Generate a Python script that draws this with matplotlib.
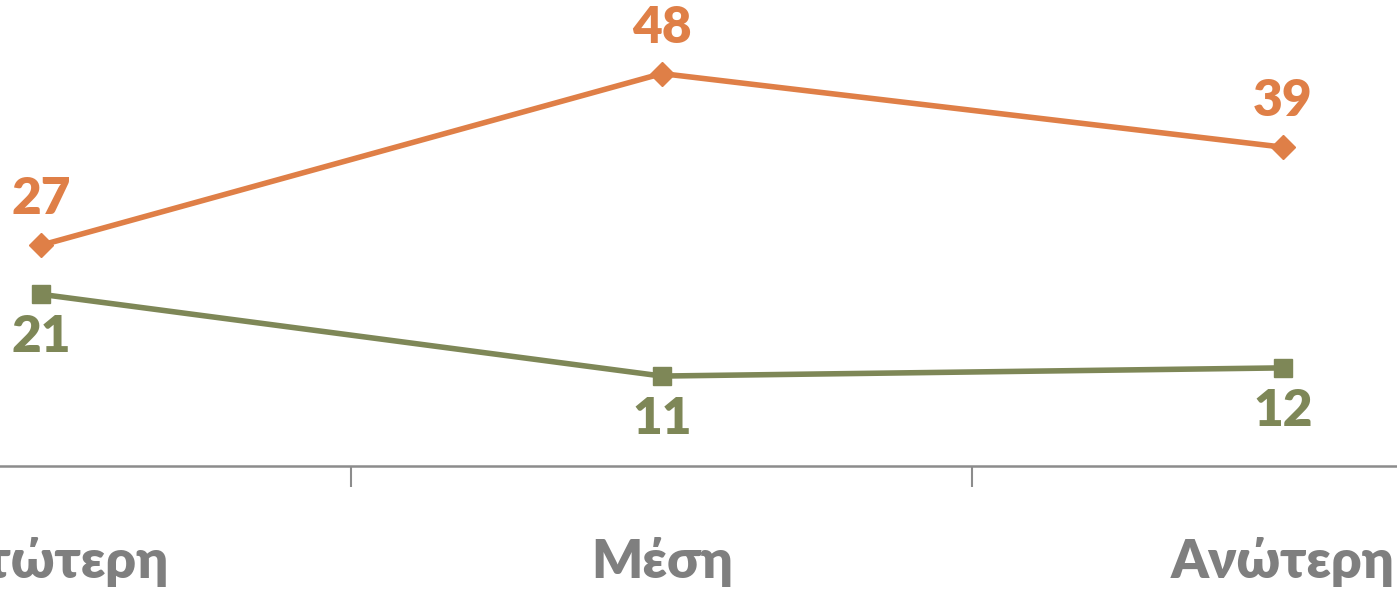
import matplotlib
matplotlib.use("Agg")
import matplotlib.pyplot as plt
from matplotlib.ticker import FixedLocator

categories = ["Κατώτερη", "Μέση", "Ανώτερη"]
series_orange = [27, 48, 39]
series_green = [21, 11, 12]

orange = "#DF7F47"
green = "#7E8757"
gray = "#7F7F7F"

plt.rcParams['font.family'] = ['Lato', 'DejaVu Sans']

fig = plt.figure(figsize=(13.97, 5.90), dpi=100)
ax = fig.add_axes([0, 0.2102, 1, 0.7898])

x = list(range(len(categories)))
ax.plot(x, series_orange, color=orange, lw=4, marker="D", ms=12, mfc=orange, mec=orange,
        solid_joinstyle="round", clip_on=False)
ax.plot(x, series_green, color=green, lw=4, marker="s", ms=13.5, mfc=green, mec=green,
        clip_on=False)

for xi, v in zip(x, series_orange):
    ax.annotate(str(v), (xi, v), xytext=(0, 33), textcoords="offset points",
                ha="center", va="center", fontsize=37, fontweight="heavy", color=orange)
for xi, v in zip(x, series_green):
    ax.annotate(str(v), (xi, v), xytext=(0, -31), textcoords="offset points",
                ha="center", va="center", fontsize=37, fontweight="heavy", color=green)

ax.set_xlim(-0.066, 2.184)
ax.set_ylim(0, 57)
ax.set_xticks(x)
ax.set_xticklabels(categories, fontsize=38.5, fontweight="heavy", color=gray)
ax.xaxis.set_minor_locator(FixedLocator([0.5, 1.5]))
ax.tick_params(axis="x", which="major", length=0, pad=51)
ax.tick_params(axis="x", which="minor", length=15, width=1.5, color="#8C8C8C", direction="out")
ax.set_yticks([])
for s in ["top", "left", "right"]:
    ax.spines[s].set_visible(False)
ax.spines["bottom"].set_color("#8C8C8C")
ax.spines["bottom"].set_linewidth(1.8)

fig.savefig("out.png", dpi=100)
